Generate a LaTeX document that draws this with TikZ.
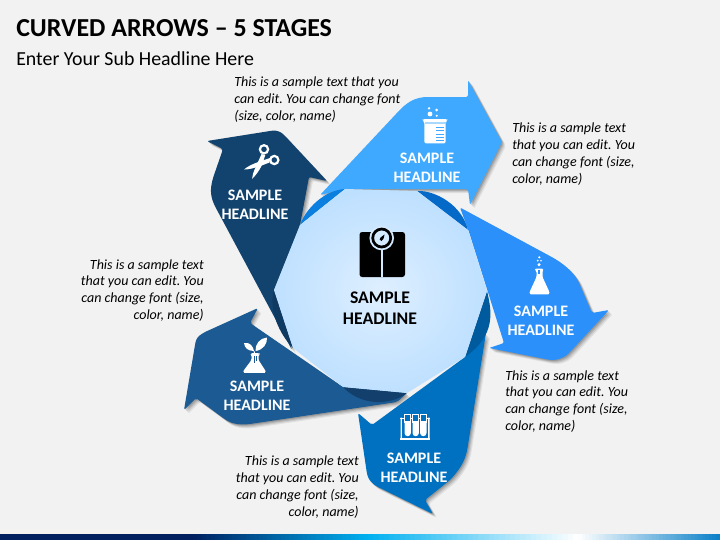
\documentclass[tikz,border=0pt]{standalone}
\usepackage{fontspec}
\setmainfont{Carlito}
\definecolor{bgc}{HTML}{F2F2F2}
\definecolor{arTop}{HTML}{3FA9FF}
\definecolor{arRight}{HTML}{2B90FA}
\definecolor{arBottom}{HTML}{0070C0}
\definecolor{arLeft}{HTML}{1B5A92}
\definecolor{arDark}{HTML}{12436F}
\definecolor{crA}{HTML}{0B7FE0}
\definecolor{crB}{HTML}{0569C8}
\definecolor{crC}{HTML}{005A9E}
\definecolor{crD}{HTML}{123F6B}
\definecolor{crE}{HTML}{0E3A62}
\definecolor{hubIn}{HTML}{DEEFFF}
\definecolor{hubOut}{HTML}{BEE0FF}
\definecolor{barA}{HTML}{002060}
\definecolor{barB}{HTML}{00B0F0}
\definecolor{barC}{HTML}{0A80C8}
\newcommand{\softarrow}[2]{%
  \foreach \o/\q in {4/.07,3/.09,2/.12,1/.14}{\fill[black,opacity=\q,shift={(\o,\o)},rounded corners=1.5pt] #1;}
  \fill[#2,rounded corners=1.5pt] #1;}
% \barband{x0}{x1}{colour at x0}{colour at x1}
\newcommand{\barband}[4]{%
  \foreach \k in {0,...,39}{%
    \pgfmathsetmacro{\pct}{(\k+.5)*2.5}%
    \pgfmathsetmacro{\xa}{#1+(#2-#1)*\k/40}%
    \pgfmathsetmacro{\xb}{#1+(#2-#1)*(\k+1)/40+.5}%
    \fill[#4!\pct!#3] (\xa,534) rectangle (\xb,540);}}
\tikzset{
  bodytxt/.style={inner sep=0pt,font=\frenchspacing\fontsize{10.5}{12.7}\selectfont\itshape,text=black},
  headw/.style={inner sep=0pt,align=center,text=white,font=\fontsize{12}{14}\selectfont\bfseries},
  headk/.style={inner sep=0pt,align=center,text=black,font=\fontsize{13.3}{15.5}\selectfont\bfseries},
  icw/.style={fill=white,draw=none},
}
\begin{document}
\begin{tikzpicture}[x=0.75pt,y=-0.75pt]
\useasboundingbox (0,0) rectangle (720,540);
\fill[bgc] (0,0) rectangle (720,540);
% footer bar
\fill[barA] (0,534) rectangle (193.5,540);
\barband{193}{368}{barA}{barB}
\barband{368}{578}{barB}{white}
\barband{578}{719.5}{white}{barC}
% titles
\node[anchor=base west,inner sep=0pt,font=\fontsize{19.45}{24}\selectfont\bfseries] (title) at (16,36.5) {CURVED ARROWS – 5 STAGES};
\node[anchor=base west,inner sep=0pt,font=\fontsize{14.9}{18}\selectfont] (subtitle) at (16,65.5) {Enter Your Sub Headline Here};
% arrows
\softarrow{(292,350) -- (217,210) .. controls (210,197) and (210,190) .. (213,178) -- (223,149) -- (207,141) -- (270,131) .. controls (277,130) and (281,132) .. (285,136) -- (327,181) -- (309,177) -- (300,225) -- (274,290) -- cycle}{arDark}
\softarrow{(258,308) -- (250,323) -- (343,387) -- (407,393) -- (397,402) -- (250,424) .. controls (240,425) and (233,424) .. (226,420) -- (196,398) -- (184,410) -- (195,345) .. controls (196,339) and (198,336) .. (205,332) -- cycle}{arLeft}
\softarrow{(486,333) -- (468,445) .. controls (466,458) and (462,467) .. (450,480) -- (425,500) -- (433,514) -- (380,488) .. controls (372,484) and (369,480) .. (367,474) -- (358,413) -- (372,425) -- (465,357) -- cycle}{arBottom}
\softarrow{(460,207.5) -- (548,255) .. controls (563,263) and (574,272) .. (580,285) -- (592,313) -- (609,310) -- (570,352) .. controls (563,359) and (555,361) .. (545,359) -- (489,348) -- (504,343) -- (469,232) -- cycle}{arRight}
\softarrow{(320,195) -- (396,114) .. controls (407,102) and (415,97) .. (430,97) -- (468,97) -- (468,80) -- (502,142) -- (470,205) -- (468,189) -- (345,189) -- cycle}{arTop}
% crescents
\fill[crA] (300,225) .. controls (306,208) and (325,190) .. (345,189) -- cycle;
\fill[crB] (417,191) .. controls (435,190) and (462,205) .. (468,230) -- cycle;
\fill[crC] (487,291) .. controls (492,312) and (496,335) .. (465,357) -- cycle;
\fill[crD] (407,393) .. controls (392,405) and (362,407) .. (343,387) -- cycle;
\fill[crE] (293,348) .. controls (280,335) and (268,310) .. (274,290) -- cycle;
% hub
\path[inner color=hubIn,outer color=hubOut,shade] (345,189) -- (417,191) -- (468,230) -- (487,291) -- (465,357) -- (407,393) -- (343,387) -- (293,348) -- (274,290) -- (300,225) -- cycle;
% scale icon
\fill[black,rounded corners=2pt] (359.5,232) rectangle (405,277);
\fill[hubIn!70!hubOut] (381.7,238) circle[radius=12.3];
\fill[hubIn!70!hubOut] (380.5,245) rectangle (382.9,277);
\fill[black,even odd rule] (381.7,238) circle[radius=10.4] (381.7,238) circle[radius=7.6];
\fill[black] (384.5,234.5) .. controls (384,238) and (383,240.5) .. (381.5,241) .. controls (379.5,241) and (379,238.5) .. (380.5,237.5) -- cycle;
% scissors
\fill[white,even odd rule] (264,149.3) circle[radius=5.3] (264,149.3) circle[radius=2.9];
\fill[white,even odd rule] (274.3,160) circle[radius=5.3] (274.3,160) circle[radius=2.9];
\fill[icw] (261.5,154) -- (265.3,155) -- (262,165) .. controls (259,171) and (256,175) .. (252,179) .. controls (252.5,172) and (257,165) .. (261.5,154) -- cycle;
\fill[icw] (270,158) -- (269.5,162.5) -- (259,166.5) .. controls (254,168) and (249,169.5) .. (244,169.5) .. controls (250,164.5) and (258,162) .. (270,158) -- cycle;
% beaker
\fill[icw,rounded corners=1pt] (422.7,119) -- (447.3,119) -- (447.3,120.5) -- (445.7,122) -- (445.7,143.3) -- (424.3,143.3) -- (424.3,122) -- (422.7,120.5) -- cycle;
\fill[arTop!45!white] (424.5,121.5) rectangle (445.5,123.5);
\foreach \y in {126.5,130,133.5,137,140}{\fill[arTop] (436,\y) rectangle (443.5,\y+1);}
\fill[icw] (429,108.3) circle[radius=1.3] (430,114) circle[radius=2.4] (436.7,110) circle[radius=1.5] (436.7,115.7) circle[radius=1.1];
% flask
\fill[icw,rounded corners=1pt] (535,268.5) -- (543,268.5) -- (543,270) -- (542.5,271) -- (542.5,277) -- (549,291) .. controls (549.5,293) and (549,294.3) .. (547,294.3) -- (532,294.3) .. controls (530,294.3) and (529.5,293) .. (530,291) -- (536.5,277) -- (536.5,271) -- (535,270) -- cycle;
\fill[arRight] (538.2,270) rectangle (540.2,273.5);
\fill[icw] (539.3,257.3) circle[radius=1.2] (537.7,260.7) circle[radius=1] (541,260.7) circle[radius=.9] (539,264.7) circle[radius=1.7];
% test tubes
\fill[icw] (400,438) rectangle (430,439.5);
\fill[icw] (400.5,417.5) rectangle (401.8,439) (428.2,417.5) rectangle (429.5,439);
\fill[icw] (400,417.5) rectangle (430,418.8);
\foreach \c in {407.7,415.7,423.3}{
  \fill[arBottom] (\c-3.6,413.5) rectangle (\c+3.6,420);
  \draw[white,line width=0.7pt] (\c-3,414) rectangle (\c+3,422);
  \fill[icw] (\c-3.2,421) -- (\c+3.2,421) -- (\c+3.2,433) arc[start angle=0,end angle=180,radius=3.2] -- cycle;
}
% plant flask
\fill[icw,rounded corners=1pt] (251,353) -- (259.5,353) -- (259.5,354.5) -- (258.5,355) -- (258.5,360) -- (265,370) .. controls (266,372) and (265,372.8) .. (263.5,372.8) -- (245.5,372.8) .. controls (244,372.8) and (243,372) .. (244,370) -- (251.5,360) -- (251.5,355) -- (251,354.5) -- cycle;
\fill[arLeft] (253.5,355.5) rectangle (254.5,363);
\fill[arLeft] (256,355.5) rectangle (257,361);
\fill[icw] (254,351) .. controls (253,346) and (250,342) .. (244,343) .. controls (244.5,348) and (248,351) .. (254,351) -- cycle;
\fill[icw] (255.5,351) .. controls (255,344) and (260,338) .. (267,337.5) .. controls (267.5,344) and (263,350) .. (255.5,351) -- cycle;
\draw[white,line width=.7pt] (254,351) -- (254.5,353);
% texts
\node[bodytxt,anchor=west,align=left] (t1) at (234,100) {This is a sample text that you\\can edit. You can change font\\(size, color, name)};
\node[bodytxt,anchor=west,align=left] (t2) at (512,154) {This is a sample text\\that you can edit. You\\can change font (size,\\color, name)};
\node[bodytxt,anchor=east,align=right] (t3) at (204,290.5) {This is a sample text\\that you can edit. You\\can change font (size,\\color, name)};
\node[bodytxt,anchor=west,align=left] (t4) at (505,401.5) {This is a sample text\\that you can edit. You\\can change font (size,\\color, name)};
\node[bodytxt,anchor=east,align=right] (t5) at (359,487) {This is a sample text\\that you can edit. You\\can change font (size,\\color, name)};
\node[headw] (h1) at (255,205) {SAMPLE\\HEADLINE};
\node[headw] (h2) at (427,167.5) {SAMPLE\\HEADLINE};
\node[headw] (h3) at (541,320.5) {SAMPLE\\HEADLINE};
\node[headw] (h4) at (414,467.5) {SAMPLE\\HEADLINE};
\node[headw] (h5) at (257,395.5) {SAMPLE\\HEADLINE};
\node[headk] (h6) at (380,308) {SAMPLE\\HEADLINE};
\end{tikzpicture}
\end{document}
